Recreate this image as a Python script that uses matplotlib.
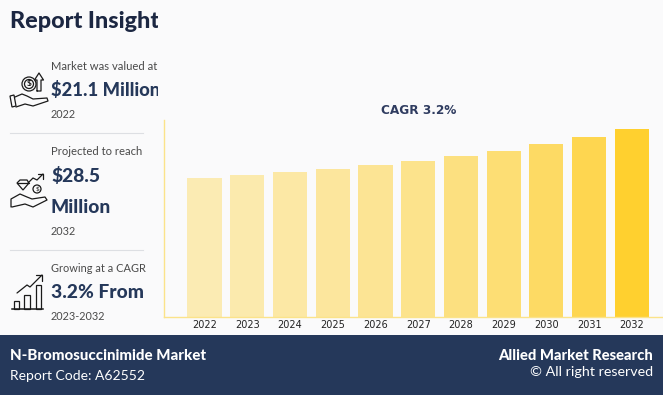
import matplotlib
matplotlib.use("Agg")
import matplotlib.pyplot as plt
from matplotlib.patches import Circle, Polygon, Rectangle

W, H = 663, 395
BG = "#fafafb"
NAVY = "#25385a"
GOLD = "#ffd02f"

years = ["2022", "2023", "2024", "2025", "2026", "2027", "2028", "2029", "2030", "2031", "2032"]
market_size = [21.1, 21.55, 22.05, 22.55, 23.1, 23.75, 24.5, 25.3, 26.3, 27.3, 28.5]
alphas = [0.35, 0.38, 0.42, 0.46, 0.50, 0.54, 0.60, 0.66, 0.74, 0.84, 1.0]

plt.rcParams["font.family"] = ["Lato", "DejaVu Sans"]

fig = plt.figure(figsize=(W / 100, H / 100), dpi=100, facecolor=BG)


def px_axes(x0, y0, x1, y1):
    """Ejes en pixeles de la imagen, con y hacia abajo."""
    ax = fig.add_axes([x0 / W, 1 - y1 / H, (x1 - x0) / W, (y1 - y0) / H])
    ax.set_xlim(x0, x1)
    ax.set_ylim(y1, y0)
    ax.axis("off")
    return ax


# Grafico de barras
ax = fig.add_axes([164 / W, 1 - 317.3 / H, (W - 164) / W, 197.7 / H], facecolor="none")
xs = list(range(len(years)))
for x, v, a in zip(xs, market_size, alphas):
    ax.bar(x, v, width=0.8, color=GOLD, alpha=a, linewidth=0)
ax.set_xlim(-0.95, 10.73)
ax.set_ylim(0, 30)
ax.set_xticks(xs)
ax.set_xticklabels(years, family="DejaVu Sans", fontsize=7, color="#222222")
ax.set_yticks([])
ax.tick_params(axis="x", length=0, pad=2)
for side in ["top", "right"]:
    ax.spines[side].set_visible(False)
for side in ["left", "bottom"]:
    ax.spines[side].set_color("#fbe38a")
    ax.spines[side].set_linewidth(1.0)
fig.text(418.5 / W, 1 - 111 / H, "CAGR 3.2%", ha="center", va="center", family="DejaVu Sans",
         fontsize=8.7, fontweight="bold", color="#2f3c60")

# Panel izquierdo, el texto se corta en x=158
left = px_axes(0, 0, 158, 335)


def panel_text(x, y, s, size, weight="normal", color="#4a4a4a"):
    left.text(x, y, s, fontsize=size, fontweight=weight, color=color, va="center", clip_on=True)


panel_text(10, 21, "Report Insights", 16.8, "black", "#1c2742")
panel_text(51, 66.5, "Market was valued at", 8.1)
panel_text(51, 90.5, "$21.1 Million", 13.2, "black", NAVY)
panel_text(51, 114.5, "2022", 7.8)
panel_text(51, 151.5, "Projected to reach", 8.1)
panel_text(51, 176, "$28.5", 13.8, "black", NAVY)
panel_text(51, 207.5, "Million", 13.8, "black", NAVY)
panel_text(51, 231.5, "2032", 7.8)
panel_text(51, 268.5, "Growing at a CAGR", 7.9)
panel_text(51, 292.5, "3.2% From", 13.8, "black", NAVY)
panel_text(51, 316.5, "2023-2032", 7.8)
for y in [132.5, 249.5, 334.5]:
    left.plot([10, 143], [y, y], color="#dddfe3", lw=0.8)

DARK = "#1a1a1a"
ICON = {"color": DARK, "lw": 0.9, "solid_capstyle": "round"}
# Icono mano con moneda
left.plot([15, 22, 27, 33, 47, 48, 33, 25, 16], [97, 94, 96, 99, 98, 101, 106, 104, 107], **ICON)
left.add_patch(Polygon([(10, 96), (14, 95), (16, 106), (12, 107)], fill=False, ec=DARK, lw=0.9))
left.add_patch(Circle((29, 84), 7, fill=False, ec=DARK, lw=0.9))
left.add_patch(Circle((29, 84), 4.5, fill=False, ec=DARK, lw=0.9))
left.text(29, 84, "$", fontsize=6, ha="center", va="center", color=DARK, fontweight="bold")
left.plot([37, 37, 34.5, 39, 43.5, 41, 41, 37], [91, 80, 80, 73, 80, 80, 91, 91], **ICON)
# Icono diamante y mano
left.plot([11, 11, 20, 27, 32, 45, 47, 33, 25, 12], [207, 199, 194, 197, 199, 197, 200, 207, 204, 207], **ICON)
left.add_patch(Polygon([(17, 183), (20, 180), (27, 180), (29, 183), (23, 190)], fill=False, ec=DARK, lw=0.9))
left.plot([17, 29], [183, 183], **ICON)
left.add_patch(Circle((37, 189), 4, fill=False, ec=DARK, lw=0.9))
left.text(37, 189, "$", fontsize=4.5, ha="center", va="center", color=DARK)
left.plot([28, 33, 37, 43], [183, 178, 180, 174], **ICON)
left.plot([38, 43, 43], [174, 174, 179], **ICON)
# Icono barras con flecha
left.plot([12, 43], [309, 309], color=DARK, lw=1.1)
for bx, bw, top in zip([14, 24, 36], [5, 6, 5], [301, 295, 285]):
    left.add_patch(Rectangle((bx, top), bw, 309 - top, fill=False, ec=DARK, lw=0.9))
left.plot([17, 27, 30, 42], [293, 285, 287, 275], **ICON)
left.plot([36, 42, 42], [275, 275, 281], **ICON)

# Banda inferior
band = px_axes(0, 335, W, H)
band.add_patch(Rectangle((0, 335), W, 60, color=NAVY, lw=0))
band.text(10, 355.5, "N-Bromosuccinimide Market", fontsize=10.8, fontweight="black", color="white", va="center")
band.text(10, 375.5, "Report Code: A62552", fontsize=10, color="white", va="center")
band.text(653, 356.5, "Allied Market Research", fontsize=10.6, fontweight="black", color="white", va="center", ha="right")
band.text(653, 372.5, "© All right reserved", fontsize=10.3, color="white", va="center", ha="right")

fig.savefig("out.png", dpi=100, facecolor=fig.get_facecolor())
